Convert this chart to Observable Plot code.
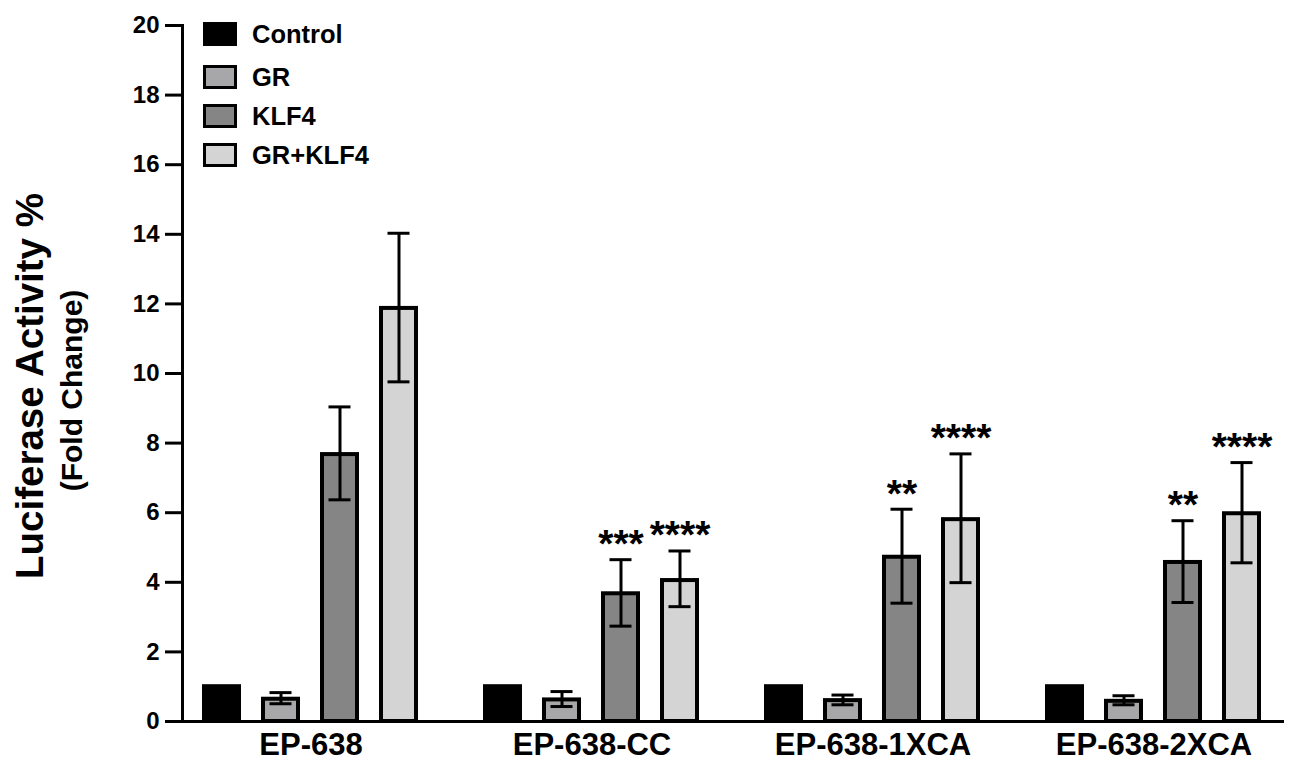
<!DOCTYPE html>
<html><head><meta charset="utf-8">
<script src="https://cdn.jsdelivr.net/npm/d3@7"></script>
<script src="https://cdn.jsdelivr.net/npm/@observablehq/plot@0.6"></script>
<style>
body{margin:0;background:#fff;font-family:"Liberation Sans",Arial,sans-serif;}
#wrap{position:relative;width:1298px;height:762px;}
#legend{position:absolute;left:203px;top:22px;}
.item{display:flex;align-items:center;height:24px;margin-bottom:15px;font-weight:bold;font-size:25.5px;color:#000;}
.item:first-child{margin-bottom:19px;}
.sw{width:28px;height:18px;border:3px solid #000;margin-right:15px;}
</style></head><body><div id="wrap"><div id="legend"></div></div>
<script>
const groups = ["EP-638", "EP-638-CC", "EP-638-1XCA", "EP-638-2XCA"];
const treatments = ["Control", "GR", "KLF4", "GR+KLF4"];
const colors = ["#000000", "#a7a7aa", "#858585", "#d4d4d4"];
const yTicks = [0, 2, 4, 6, 8, 10, 12, 14, 16, 18, 20];

const controlMean = [1, 1, 1, 1];
const grMean = [0.64, 0.62, 0.60, 0.58];
const grLo = [0.51, 0.43, 0.48, 0.48];
const grHi = [0.83, 0.86, 0.76, 0.74];
const klf4Mean = [7.67, 3.67, 4.72, 4.57];
const klf4Lo = [6.37, 2.74, 3.40, 3.42];
const klf4Hi = [9.04, 4.65, 6.10, 5.77];
const bothMean = [11.87, 4.05, 5.80, 5.97];
const bothLo = [9.76, 3.30, 3.99, 4.56];
const bothHi = [14.03, 4.90, 7.69, 7.44];
const klf4Stars = ["", "***", "**", "**"];
const bothStars = ["", "****", "****", "****"];

const yTitle = "Luciferase Activity %";
const ySub = "(Fold Change)";

const series = [
  {t: "Control", mean: controlMean, lo: null, hi: null, stars: null},
  {t: "GR", mean: grMean, lo: grLo, hi: grHi, stars: null},
  {t: "KLF4", mean: klf4Mean, lo: klf4Lo, hi: klf4Hi, stars: klf4Stars},
  {t: "GR+KLF4", mean: bothMean, lo: bothLo, hi: bothHi, stars: bothStars}
];
const rows = [];
groups.forEach((g, i) => series.forEach(s => rows.push({
  group: g, treatment: s.t, value: s.mean[i],
  lo: s.lo ? s.lo[i] : null, hi: s.hi ? s.hi[i] : null,
  star: s.stars ? s.stars[i] : ""
})));
const errRows = rows.filter(d => d.lo != null);
const starRows = rows.filter(d => d.star);

const font = "'Liberation Sans', Arial, Helvetica, sans-serif";
const chart = Plot.plot({
  width: 1298, height: 762,
  marginLeft: 180, marginRight: 14, marginTop: 25, marginBottom: 41,
  style: {fontFamily: font, background: "#fff", color: "#000"},
  fx: {domain: groups, paddingInner: 0.085, paddingOuter: 0, label: null, axis: null},
  x: {domain: treatments, paddingInner: 0.402, paddingOuter: 0.349, axis: null},
  y: {domain: [0, 20], axis: null},
  color: {domain: treatments, range: colors},
  marks: [
    Plot.axisFx({anchor: "bottom", tickSize: 0, tickPadding: 11, fontSize: 31, fontWeight: "bold", label: null}),
    Plot.axisY({ticks: yTicks, tickSize: 17, tickPadding: 6, strokeWidth: 3, fontSize: 24, fontWeight: "bold", label: null}),
    Plot.barY(rows, {fx: "group", x: "treatment", y: "value", fill: "treatment", stroke: "#000", strokeWidth: 4}),
    Plot.frame({facet: "super", anchor: "bottom", strokeWidth: 3}),
    Plot.frame({facet: "super", anchor: "left", strokeWidth: 3}),
    Plot.ruleX(errRows, {fx: "group", x: "treatment", y1: "lo", y2: "hi", strokeWidth: 3}),
    Plot.tickY(errRows, {fx: "group", x: "treatment", y: "lo", insetLeft: 6.5, insetRight: 6.5, strokeWidth: 3}),
    Plot.tickY(errRows, {fx: "group", x: "treatment", y: "hi", insetLeft: 6.5, insetRight: 6.5, strokeWidth: 3}),
    Plot.text(starRows, {fx: "group", x: "treatment", y: "hi", text: "star", fontSize: 39, fontWeight: "bold", dy: -15}),
    Plot.text([yTitle], {facet: "super", frameAnchor: "left", textAnchor: "middle", dx: -152, dy: 12.5, rotate: -90, fontSize: 38.5, fontWeight: "bold"}),
    Plot.text([ySub], {facet: "super", frameAnchor: "left", textAnchor: "middle", dx: -110, dy: 17, rotate: -90, fontSize: 30, fontWeight: "bold"})
  ]
});
const wrap = document.getElementById("wrap");
wrap.insertBefore(chart, wrap.firstChild);

const legend = document.getElementById("legend");
treatments.forEach((t, i) => {
  const item = document.createElement("div");
  item.className = "item";
  const sw = document.createElement("span");
  sw.className = "sw";
  sw.style.background = colors[i];
  const lab = document.createElement("span");
  lab.textContent = t;
  item.appendChild(sw); item.appendChild(lab);
  legend.appendChild(item);
});
</script></body></html>
